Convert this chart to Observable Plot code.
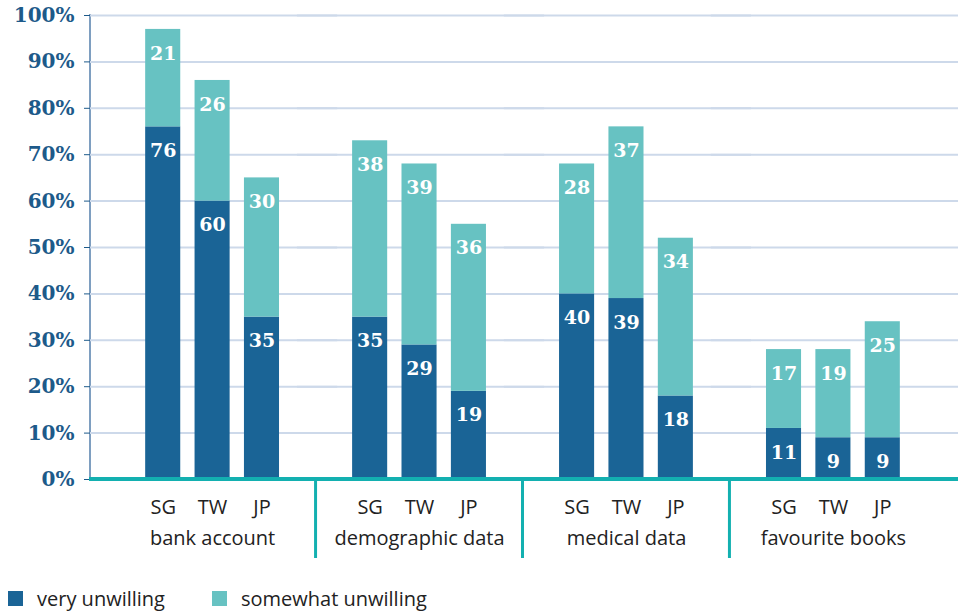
<!DOCTYPE html>
<html>
<head>
<meta charset="utf-8">
<script src="https://cdn.jsdelivr.net/npm/d3@7"></script>
<script src="https://cdn.jsdelivr.net/npm/@observablehq/plot@0.6"></script>
<style>
  body { margin: 0; background: #fff; font-family: "Open Sans", sans-serif; }
  #chart svg { display: block; }
  #legend { margin: 17px 0 0 8px; }
  .lg-swatches { font-family: "Open Sans", sans-serif !important; font-size: 20px !important; color: #222 !important; min-height: 0 !important; margin: 0 !important; }
  .lg-swatch { margin-right: 47px !important; }
  .lg-swatch > svg { margin-right: 14px !important; }
</style>
</head>
<body>
<div id="chart"></div>
<div id="legend"></div>
<script>
const groups = ["bank account", "demographic data", "medical data", "favourite books"];
const countries = ["SG", "TW", "JP"];
const series = ["very unwilling", "somewhat unwilling"];
const veryUnwilling = [[76, 60, 35], [35, 29, 19], [40, 39, 18], [11, 9, 9]];
const somewhatUnwilling = [[21, 26, 30], [38, 39, 36], [28, 37, 34], [17, 19, 25]];
const yTicks = d3.range(0, 101, 10);
const colors = ["#1a6496", "#67c2c2"];

const rows = [];
groups.forEach((g, i) => countries.forEach((c, j) => {
  rows.push({group: g, country: c, series: series[0], value: veryUnwilling[i][j]});
  rows.push({group: g, country: c, series: series[1], value: somewhatUnwilling[i][j]});
}));

const W = 958, H = 568, ML = 90, MR = 3, MT = 15, MB = H - 479;
const teal = "#13b0b0";

function makeChart(off) {
  return Plot.plot({
    width: W, height: H,
    marginLeft: ML, marginRight: MR, marginTop: MT, marginBottom: MB,
    style: {fontFamily: "'Open Sans', sans-serif", background: "#fff", overflow: "visible"},
    fx: {domain: groups, paddingInner: 0, paddingOuter: 0.09, round: false, label: null},
    x: {domain: countries, paddingInner: 0.29, paddingOuter: 0.74, round: false, label: null},
    y: {domain: [0, 100], label: null},
    color: {domain: series, range: colors},
    marks: [
      Plot.gridY(yTicks.slice(1), {stroke: "#cdd9ea", strokeOpacity: 1, strokeWidth: 2, insetLeft: -off, insetRight: -(off + MR)}),
      Plot.barY(rows, {fx: "group", x: "country", y: "value", z: "series", fill: "series"}),
      Plot.text(rows, Plot.stackY2({
        fx: "group", x: "country", y: "value", z: "series", text: "value",
        dy: 24, fill: "white", fontFamily: "DejaVu Serif", fontWeight: "bold", fontSize: 19
      })),
      Plot.axisY({
        ticks: yTicks, tickFormat: d => d + "%", tickSize: 6, tickPadding: 10, dx: -off,
        fontSize: 20, fontFamily: "DejaVu Serif", fontWeight: "bold", color: "#1d5a8a", label: null
      }),
      Plot.axisX({anchor: "bottom", tickSize: 0, tickPadding: 20, fontSize: 20, fill: "#222", label: null}),
      Plot.axisFx({anchor: "bottom", tickSize: 0, tickPadding: 51, fontSize: 20, fill: "#222", label: null})
    ]
  });
}

// first pass: find where the first facet starts, so the y axis can sit on the left margin
const probe = makeChart(0);
const offset = probe.scale("fx").apply(groups[0]) - ML;
const chart = makeChart(offset);
document.getElementById("chart").appendChild(chart);

// axis line, baseline and group separators, positioned with Plot's own scales
const ys = chart.scale("y"), fxs = chart.scale("fx");
const svg = d3.select(chart);
const y0 = ys.apply(0), y100 = ys.apply(100);
svg.insert("line", "g")
  .attr("x1", ML).attr("x2", ML).attr("y1", y100 - 1).attr("y2", y0)
  .attr("stroke", "#7e9ec0").attr("stroke-width", 2);
svg.append("line")
  .attr("x1", ML - 1).attr("x2", W).attr("y1", y0).attr("y2", y0)
  .attr("stroke", teal).attr("stroke-width", 4);
groups.slice(1).forEach(g => {
  const x = fxs.apply(g) - (fxs.step * (fxs.paddingInner || 0)) / 2;
  svg.append("line")
    .attr("x1", x).attr("x2", x).attr("y1", y0).attr("y2", y0 + 79)
    .attr("stroke", teal).attr("stroke-width", 3);
});

const legend = Plot.legend({
  legend: "swatches", className: "lg", swatchSize: 15,
  color: {domain: series, range: colors}
});
document.getElementById("legend").appendChild(legend);
</script>
</body>
</html>
